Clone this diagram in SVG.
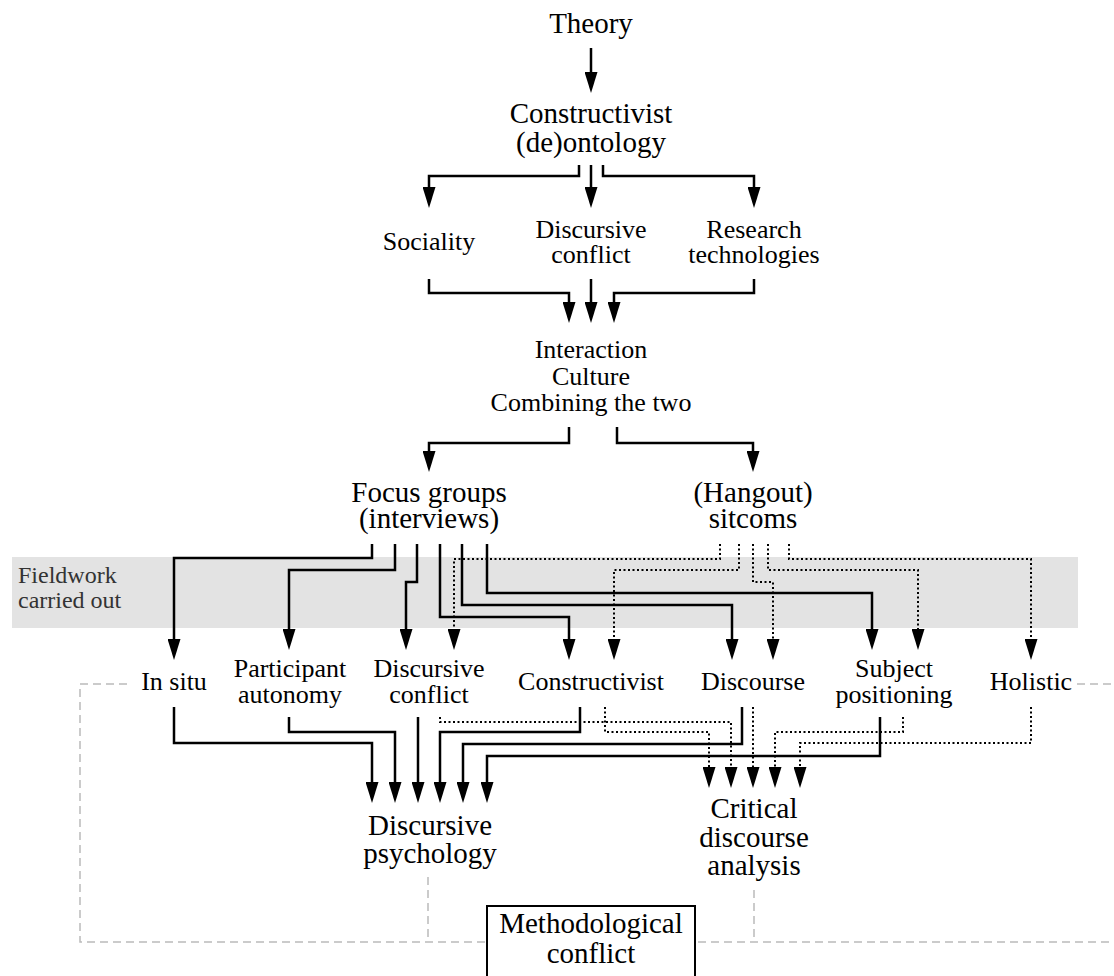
<svg xmlns="http://www.w3.org/2000/svg" width="1114" height="976" viewBox="0 0 1114 976">
<style>
text{font-family:"Liberation Serif","Times New Roman",serif;fill:#000;text-anchor:middle}
.L{font-size:29px}
.M{font-size:26px}
.f{font-size:24px;fill:#333;text-anchor:start}
.s{fill:none;stroke:#000;stroke-width:2.5;marker-end:url(#ah)}
.d{fill:none;stroke:#000;stroke-width:2;stroke-dasharray:2 2.5;marker-end:url(#ah)}
.g{fill:none;stroke:#bbb;stroke-width:1.5;stroke-dasharray:8 5}
</style>
<defs>
<marker id="ah" viewBox="0 0 21 13" refX="13" refY="6.5" markerWidth="21" markerHeight="13" markerUnits="userSpaceOnUse" orient="auto">
<path d="M0,0 L21,6.5 L0,13 Z" fill="#000"/>
</marker>
</defs>
<rect id="fieldwork-band" x="12" y="557" width="1066" height="71" fill="#e3e3e3"/>
<g id="fieldwork-label"><text class="f" x="18" y="583">Fieldwork</text><text class="f" x="18" y="608">carried out</text></g>
<g id="dashed">
<path class="g" d="M127,684 H80 V942 H1114"/>
<path class="g" d="M1077,684 H1114"/>
<path class="g" d="M428,877 V942"/>
<path class="g" d="M754,890 V942"/>
</g>
<g id="connectors">
<path class="s" d="M591,48 V85"/>
<path class="s" d="M579,165 V176 H429 V200"/>
<path class="s" d="M591,165 V200"/>
<path class="s" d="M603,165 V176 H754 V200"/>
<path class="s" d="M429,279 V293 H569 V315"/>
<path class="s" d="M591,279 V315"/>
<path class="s" d="M754,279 V293 H614 V315"/>
<path class="s" d="M569,427 V443 H429 V464"/>
<path class="s" d="M617,427 V443 H753 V464"/>
<path class="s" d="M372,544 V558 H174 V652"/>
<path class="s" d="M395,544 V570 H289 V642"/>
<path class="s" d="M417,544 V582 H406 V642"/>
<path class="s" d="M440,544 V617 H569 V652"/>
<path class="s" d="M462,544 V605 H732 V652"/>
<path class="s" d="M487,544 V593 H872 V642"/>
<path class="d" d="M720,544 V559 H454 V642"/>
<path class="d" d="M739,544 V570 H614 V652"/>
<path class="d" d="M753,544 V582 H773 V652"/>
<path class="d" d="M768,544 V570 H918 V642"/>
<path class="d" d="M789,544 V559 H1031 V652"/>
<path class="s" d="M174,707 V743 H372 V795"/>
<path class="s" d="M289,717 V732 H395 V795"/>
<path class="s" d="M418,717 V795"/>
<path class="s" d="M580,707 V732 H440 V795"/>
<path class="s" d="M742,707 V744 H463 V795"/>
<path class="s" d="M880,717 V756 H487 V795"/>
<path class="d" d="M440,717 V722 H731 V780"/>
<path class="d" d="M605,707 V732 H709 V780"/>
<path class="d" d="M753,707 V780"/>
<path class="d" d="M903,717 V732 H775 V780"/>
<path class="d" d="M1031,707 V743 H800 V780"/>
</g>
<g id="theory"><text class="L" x="591" y="33">Theory</text></g>
<g id="constructivist-deontology"><text class="L" x="591" y="123">Constructivist</text><text class="L" x="591" y="152">(de)ontology</text></g>
<g id="sociality"><text class="M" x="429" y="250">Sociality</text></g>
<g id="discursive-conflict-top"><text class="M" x="591" y="238">Discursive</text><text class="M" x="591" y="263">conflict</text></g>
<g id="research-technologies"><text class="M" x="754" y="238">Research</text><text class="M" x="754" y="263">technologies</text></g>
<g id="interaction"><text class="M" x="591" y="358">Interaction</text><text class="M" x="591" y="385">Culture</text><text class="M" x="591" y="411">Combining the two</text></g>
<g id="focus-groups"><text class="L" x="429" y="502">Focus groups</text><text class="L" x="429" y="528">(interviews)</text></g>
<g id="sitcoms"><text class="L" x="753" y="502">(Hangout)</text><text class="L" x="753" y="528">sitcoms</text></g>
<g id="in-situ"><text class="M" x="174" y="690">In situ</text></g>
<g id="participant-autonomy"><text class="M" x="290" y="677">Participant</text><text class="M" x="290" y="703">autonomy</text></g>
<g id="discursive-conflict"><text class="M" x="429" y="677">Discursive</text><text class="M" x="429" y="703">conflict</text></g>
<g id="constructivist"><text class="M" x="591" y="690">Constructivist</text></g>
<g id="discourse"><text class="M" x="753" y="690">Discourse</text></g>
<g id="subject-positioning"><text class="M" x="894" y="677">Subject</text><text class="M" x="894" y="703">positioning</text></g>
<g id="holistic"><text class="M" x="1031" y="690">Holistic</text></g>
<g id="discursive-psychology"><text class="L" x="430" y="835">Discursive</text><text class="L" x="430" y="863">psychology</text></g>
<g id="cda"><text class="L" x="754" y="818">Critical</text><text class="L" x="754" y="847">discourse</text><text class="L" x="754" y="875">analysis</text></g>
<g id="methodological-conflict">
<rect x="487" y="906" width="208" height="80" fill="#fff" stroke="#000" stroke-width="2"/>
<text class="L" x="591" y="933">Methodological</text><text class="L" x="591" y="963">conflict</text>
</g>
</svg>
